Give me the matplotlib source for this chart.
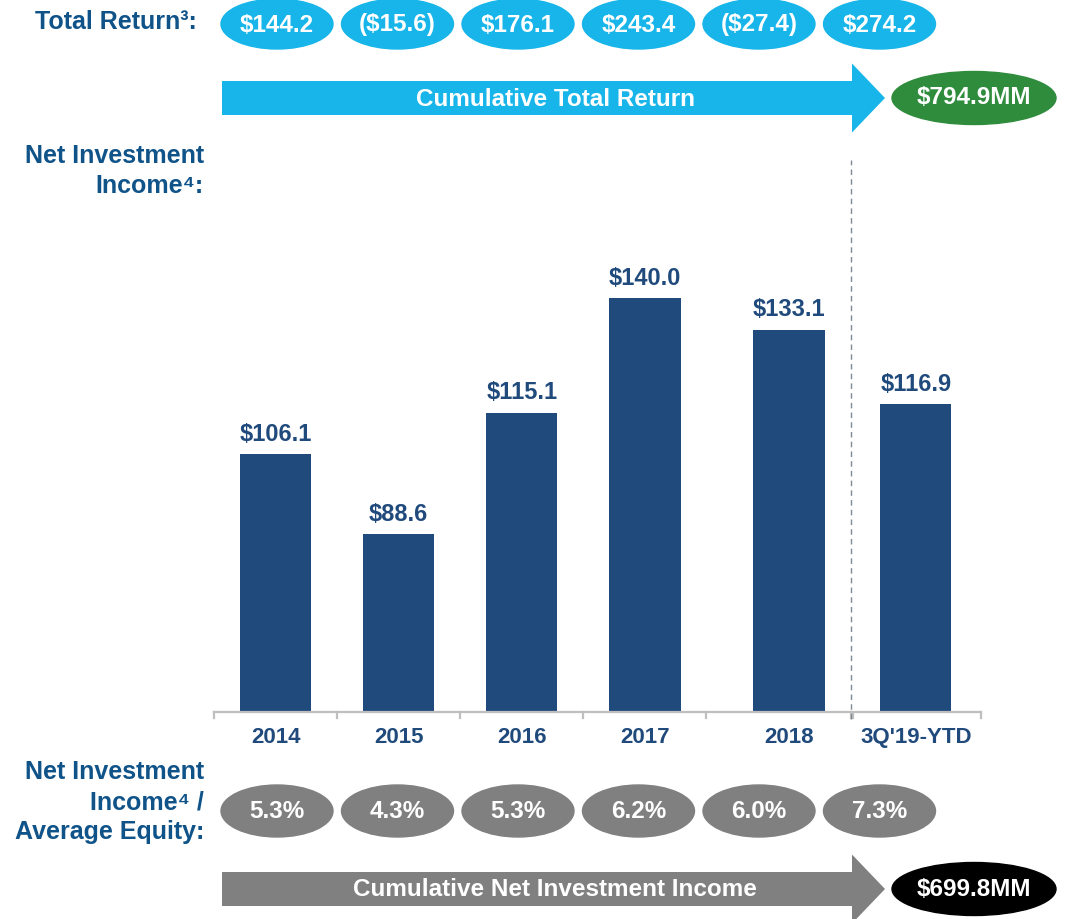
import numpy as np
import matplotlib
matplotlib.use('Agg')
import matplotlib.pyplot as plt
from matplotlib.patches import Ellipse, FancyArrow

plt.rcParams['font.family'] = ['Liberation Sans', 'DejaVu Sans']
plt.rcParams['font.weight'] = 'bold'

# data
years = ['2014', '2015', '2016', '2017', '2018', "3Q'19-YTD"]
net_investment_income = [106.1, 88.6, 115.1, 140.0, 133.1, 116.9]
total_return = [144.2, -15.6, 176.1, 243.4, -27.4, 274.2]
nii_to_equity = [5.3, 4.3, 5.3, 6.2, 6.0, 7.3]
cum_total_return = 794.9
cum_nii = 699.8

# colours
label_blue = '#0f5389'
bar_blue = '#204a7c'
sky = '#17b5e9'
grey = '#808080'
green = '#2f8c3c'
axis_grey = '#bfbfbf'


def money(v):
    if v < 0:
        return '(${:.1f})'.format(-v)
    return '${:.1f}'.format(v)


fig = plt.figure(figsize=(10.78, 9.19), dpi=100)

# background canvas in pixel units
bg = fig.add_axes([0, 0, 1, 1])
bg.set_xlim(0, 1078)
bg.set_ylim(919, 0)
bg.axis('off')

# left side labels
lab = dict(ha='right', va='center', color=label_blue, fontsize=18, fontweight='bold')
bg.text(197, 22, 'Total Return³:', **lab)
bg.text(204, 156, 'Net Investment', **lab)
bg.text(204, 186, 'Income⁴:', **lab)
bg.text(204, 772, 'Net Investment', **lab)
bg.text(204, 802, 'Income⁴ /', **lab)
bg.text(204, 832, 'Average Equity:', **lab)

# ellipse rows
x0, step = 277, 120.5
for i, v in enumerate(total_return):
    cx = x0 + step * i
    bg.add_patch(Ellipse((cx, 24), 112, 50, color=sky))
    bg.text(cx, 25, money(v), ha='center', va='center', color='white',
            fontsize=17.5, fontweight='bold')
for i, v in enumerate(nii_to_equity):
    cx = x0 + step * i
    bg.add_patch(Ellipse((cx, 811), 112, 52, color=grey))
    bg.text(cx, 812, '{:.1f}%'.format(v), ha='center', va='center', color='white',
            fontsize=17.5, fontweight='bold')

# cumulative arrows
for y, col, txt, tot, ecol in [(98, sky, 'Cumulative Total Return', cum_total_return, green),
                                (889, grey, 'Cumulative Net Investment Income', cum_nii, 'black')]:
    bg.add_patch(FancyArrow(222, y, 663, 0, width=34, head_width=69, head_length=33,
                            length_includes_head=True, color=col, lw=0))
    bg.text(555, y + 1, txt, ha='center', va='center', color='white',
            fontsize=17.5, fontweight='bold')
    bg.add_patch(Ellipse((974, y), 164, 53, color=ecol))
    bg.text(974, y, '${:.1f}MM'.format(tot), ha='center', va='center', color='white',
            fontsize=17.5, fontweight='bold')

# bar chart
ax = fig.add_axes([214 / 1078, (919 - 712) / 919, (981 - 214) / 1078, (712 - 160) / 919])
ax.patch.set_alpha(0)
xpos = [0, 1, 2, 3, 4.17, 5.2]
bars = ax.bar(xpos, net_investment_income, width=0.58, color=bar_blue, bottom=0)
ax.set_ylim(50, 170)
ax.set_xlim(-0.5, 5.73)
ax.bar_label(bars, labels=[money(v) for v in net_investment_income], padding=6,
             color=bar_blue, fontsize=17, fontweight='bold')
for s in ax.spines.values():
    s.set_visible(False)
ax.set_yticks([])
ax.set_xticks(xpos, years)
ax.tick_params(axis='x', length=0, pad=11, labelsize=16, labelcolor=bar_blue)

# axis line in two pieces with small ticks
brk = 4.675
ax.plot([-0.5, brk], [50, 50], color=axis_grey, lw=1.6, clip_on=False)
ax.plot([brk + 0.015, 5.73], [50, 50], color=axis_grey, lw=1.6, clip_on=False)
for t in [-0.5, 0.5, 1.5, 2.5, 3.5, brk, brk + 0.015, 5.73]:
    ax.plot([t, t], [50, 48.8], color=axis_grey, lw=1.6, clip_on=False)

# divider before the year-to-date bar
ax.plot([brk, brk], [48.5, 170], color='#7f8a96', lw=1, ls=(0, (4, 3)), clip_on=False)

fig.savefig('out.png', dpi=100)
